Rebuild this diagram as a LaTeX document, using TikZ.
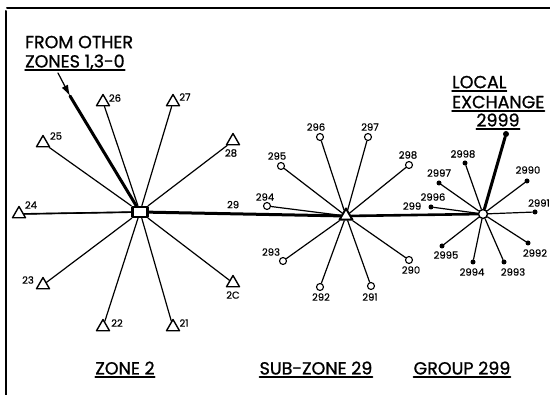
\documentclass[tikz,border=0pt]{standalone}
\usepackage{fontspec}
\setmainfont{Poppins}
\usetikzlibrary{arrows.meta, shapes.geometric}
\tikzset{>=Latex}

\begin{document}
\begin{tikzpicture}[x=1pt, y=-1pt, line cap=round, line join=round,
                frame/.style={line width=2pt},
                spoke/.style={line width=1.2pt},
                trunk/.style={line width=3pt},
                tri/.style={draw, line width=1.4pt, fill=white, regular polygon,
                    regular polygon sides=3, minimum size=15pt, inner sep=0pt},
                ring/.style={draw, line width=1.1pt, fill=white, circle,
                    minimum size=7pt, inner sep=0pt},
                dot/.style={fill, circle, minimum size=5pt, inner sep=0pt},
                num/.style={font=\fontsize{10}{10}\selectfont\addfontfeature{FakeBold=0.6},
                    inner sep=0pt},
                title/.style={font=\fontsize{17.5}{17.5}\selectfont\addfontfeature{FakeBold=1},
                    inner sep=0pt, text depth=0pt},
                ul/.style={line width=1.4pt}]
                \useasboundingbox (0,0) rectangle (550,395);

                % frame
                \draw[frame] (6,395) -- (6,11);
                \draw[frame] (7,8) -- (550,8);

                % hubs
                \node[draw, line width=2.4pt, fill=white, minimum width=15pt,
                      minimum height=10pt, inner sep=0pt] (zoneTwo) at (140,212) {};
                \node[tri, line width=2pt] (subZone) at (346,216) {};
                \node[ring, minimum size=9pt, line width=1.4pt] (groupHub) at (483,214) {};

                % zone 2 exchanges
                \foreach \n/\x/\y/\lx/\ly in {24/19/214/31/205, 25/43/143/56/136,
                    26/103/102/115/98, 27/173/102/185/97, 28/233/141/231/153,
                    2C/233/283/233/295, 21/173/327/184/323, 22/103/327/117/323,
                    23/43/285/28/280}{
                    \node[tri] (t\n) at (\x,\y) {};
                    \node[num] (lt\n) at (\lx,\ly) {\n};
                    \draw[spoke] (zoneTwo) -- (t\n);
                }

                % sub-zone 29 exchanges
                \foreach \n/\x/\y/\lx/\ly in {290/409/260/411/270, 291/371/286/370/297,
                    292/320/287/321/297, 293/283/261/271/252, 294/267/206/265/197,
                    295/281/166/277/156, 296/320/137/316/127, 297/368/137/370/127,
                    298/409/165/408/155}{
                    \node[ring] (c\n) at (\x,\y) {};
                    \node[num] (lc\n) at (\lx,\ly) {\n};
                    \draw[spoke] (subZone) -- (c\n);
                }

                % group 299 subscribers
                \foreach \n/\x/\y/\lx/\ly in {2990/527/181/528/170, 2991/535/212/539/203,
                    2992/528/243/535/253, 2993/504/262/513/272, 2994/473/262/472/272,
                    2995/442/246/446/255, 2996/431/207/433/197, 2997/439/183/439/173,
                    2998/465/163/463/154}{
                    \node[dot] (d\n) at (\x,\y) {};
                    \node[num] (ld\n) at (\lx,\ly) {\n};
                    \draw[spoke] (groupHub) -- (d\n);
                }

                % trunks
                \draw[line width=1.6pt] (t24) -- (zoneTwo);
                \draw[trunk] (zoneTwo) -- (subZone) node[num, pos=0.44, above=4pt] (lTrunkA) {29};
                \draw[line width=2.6pt] (subZone) -- (groupHub) node[num, pos=0.48, above=4pt] (lTrunkB) {299};

                % local exchange
                \node[dot, minimum size=6pt] (d2999) at (506,134) {};
                \draw[trunk] (groupHub) -- (d2999);
                \node[title, anchor=west] (local) at (452,82) {LOCAL};
                \node[title, anchor=west] (exch) at (452,102) {EXCHANGE};
                \node[title] (lx2999) at (498,120) {2999};
                \foreach \t in {local, exch, lx2999}
                    \draw[ul] ([yshift=-2.5pt]\t.south west) -- ([yshift=-2.5pt]\t.south east);

                % incoming trunk from other zones
                \node[title, anchor=west] (fromOther) at (25,42) {FROM OTHER};
                \node[title, anchor=west] (otherZones) at (25,61) {ZONES 1,3-0};
                \draw[ul] ([yshift=-2.5pt]otherZones.south west) -- ([yshift=-2.5pt]otherZones.south east);
                \coordinate (fromEnd) at (58,73);
                \coordinate (arrowTip) at (70,96);
                \draw[spoke, -{Latex[length=11pt, width=7pt]}] (fromEnd) -- (arrowTip);
                \draw[trunk] (arrowTip) -- (zoneTwo);

                % captions
                \foreach \name/\x/\txt in {capZone/125/ZONE 2, capSub/316/SUB-ZONE 29, capGroup/462/GROUP 299}{
                    \node[title] (\name) at (\x,368) {\txt};
                    \draw[ul] ([yshift=-2.5pt]\name.south west) -- ([yshift=-2.5pt]\name.south east);
                }

            \end{tikzpicture}
\end{document}
